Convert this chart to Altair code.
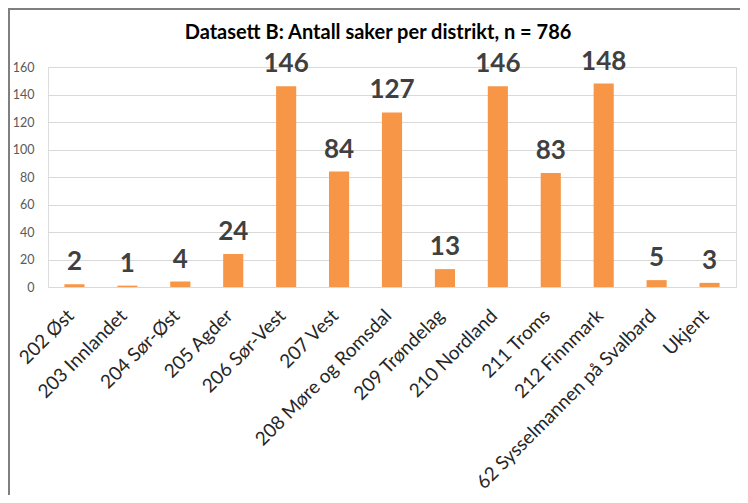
import altair as alt
import pandas as pd

districts = ["202 Øst", "203 Innlandet", "204 Sør-Øst", "205 Agder", "206 Sør-Vest",
             "207 Vest", "208 Møre og Romsdal", "209 Trøndelag", "210 Nordland",
             "211 Troms", "212 Finnmark", "62 Sysselmannen på Svalbard", "Ukjent"]
cases = [2, 1, 4, 24, 146, 84, 127, 13, 146, 83, 148, 5, 3]
title_text = "Datasett B: Antall saker per distrikt, n = 786"
y_ticks = [0, 20, 40, 60, 80, 100, 120, 140, 160]

df = pd.DataFrame({"distrikt": districts, "saker": cases})

FONT = "Lato"
W, H = 688, 220

x_enc = alt.X("distrikt:N", sort=districts, title=None,
              scale=alt.Scale(paddingInner=0.62, paddingOuter=0.31),
              axis=alt.Axis(labelAngle=-45, labelFontSize=19, labelColor="#262626",
                            labelFont=FONT, ticks=False, domain=False, labelPadding=19,
                            labelOffset=-10, labelAlign="right", labelBaseline="top",
                            labelLimit=400, labelOverlap=False))
y_enc = alt.Y("saker:Q", title=None,
              scale=alt.Scale(domain=[0, 160], nice=False),
              axis=alt.Axis(values=y_ticks, labelFontSize=12.5, labelColor="#595959",
                            labelFont=FONT, ticks=False, domain=False, labelPadding=14,
                            labelOverlap=False,
                            gridColor="#D9D9D9", gridWidth=1.2))

base = alt.Chart(df)
bars = base.mark_bar(color="#F79646").encode(x=x_enc, y=y_enc)
labels = base.mark_text(font=FONT, fontSize=26, fontWeight="bold", color="#404040",
                        dy=-14, baseline="alphabetic").encode(
    x=x_enc, y=y_enc, text="saker:Q")

title_df = pd.DataFrame({"t": [title_text]})
title = alt.Chart(title_df).mark_text(font=FONT, fontSize=20, fontWeight="bold",
                                      color="#000000", baseline="middle").encode(
    text="t:N", x=alt.value(330), y=alt.value(-34))

frame_df = pd.DataFrame({"k": [1]})
left_line = alt.Chart(frame_df).mark_rule(color="#7F7F7F", strokeWidth=2).encode(
    x=alt.value(-39), y=alt.value(-58), y2=alt.value(430))
top_line = alt.Chart(frame_df).mark_rule(color="#7F7F7F", strokeWidth=2).encode(
    x=alt.value(-40), x2=alt.value(W + 4), y=alt.value(-58))

chart = alt.layer(bars, labels, title, left_line, top_line).properties(
    width=W, height=H,
    autosize=alt.AutoSizeParams(type="none"),
    padding={"left": 40, "top": 59, "right": 4, "bottom": 208},
).configure_view(stroke=None).configure(background="white")

chart.save("out.html", embed_options={"renderer": "svg", "actions": False})
